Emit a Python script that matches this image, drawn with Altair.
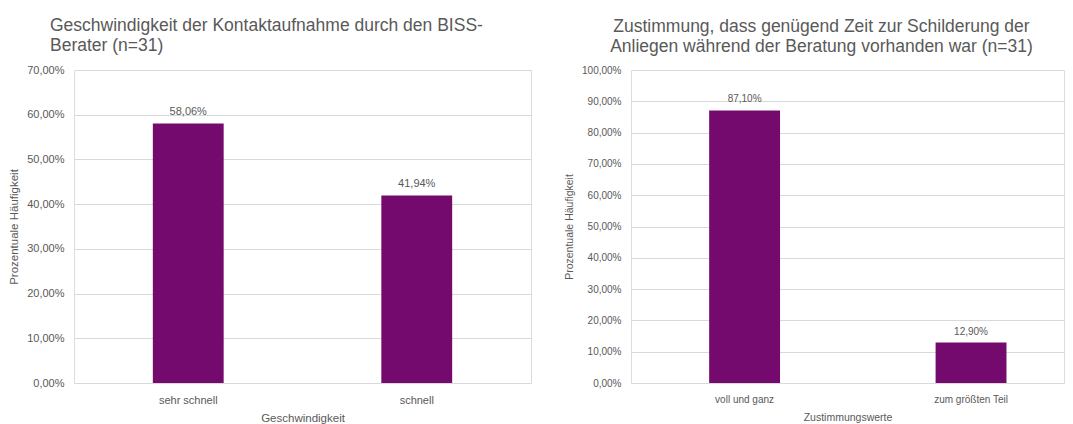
import altair as alt
import pandas as pd

# ---- data ----
left_categories = ["sehr schnell", "schnell"]
left_values = [58.06, 41.94]
left_ticks = [0, 10, 20, 30, 40, 50, 60, 70]

right_categories = ["voll und ganz", "zum größten Teil"]
right_values = [87.10, 12.90]
right_ticks = [0, 10, 20, 30, 40, 50, 60, 70, 80, 90, 100]

left_title = ["Geschwindigkeit der Kontaktaufnahme durch den BISS-", "Berater (n=31)"]
right_title = ["Zustimmung, dass genügend Zeit zur Schilderung der",
               "Anliegen während der Beratung vorhanden war (n=31)"]

PURPLE = "#740A6E"
GREY = "#595959"
GRID = "#D9D9D9"
FONT = "Liberation Sans"
FMT = "replace(format(datum.value, '.2f'), '.', ',') + '%'"


def panel(cats, vals, ticks, ymax, xtitle, title, width, small, ytitle_size,
          pad_inner, pad_outer, align, title_anchor, title_dx, x_title_pad):
    df = pd.DataFrame({"k": cats, "v": vals})
    base = alt.Chart(df).transform_calculate(
        lab="replace(format(datum.v, '.2f'), '.', ',') + '%'"
    )
    x = alt.X(
        "k:N", sort=None, title=xtitle,
        scale=alt.Scale(paddingInner=pad_inner, paddingOuter=pad_outer, align=align),
        axis=alt.Axis(labelAngle=0, domain=False, ticks=False, labelPadding=11,
                      titlePadding=x_title_pad, labelFontSize=small,
                      titleFontSize=ytitle_size,
                      labelColor=GREY, titleColor=GREY, labelFont=FONT, titleFont=FONT,
                      titleFontWeight="normal"),
    )
    y = alt.Y(
        "v:Q", title="Prozentuale Häufigkeit",
        scale=alt.Scale(domain=[0, ymax], nice=False),
        axis=alt.Axis(values=ticks, labelExpr=FMT, domain=False, ticks=False,
                      labelPadding=10, titlePadding=7, gridColor=GRID, gridWidth=1,
                      labelFontSize=small, titleFontSize=ytitle_size,
                      labelColor=GREY, titleColor=GREY, labelFont=FONT, titleFont=FONT,
                      titleFontWeight="normal", labelOverlap=False),
    )
    bars = base.mark_bar(color=PURPLE).encode(x=x, y=y)
    text = base.mark_text(baseline="alphabetic", dy=-8, color=GREY, font=FONT,
                          fontSize=small).encode(x=x, y=y, text="lab:N")
    return alt.layer(bars, text).properties(
        width=width, height=313,
        title=alt.TitleParams(title, anchor=title_anchor, dx=title_dx, fontSize=17.5,
                              font=FONT, fontWeight="normal", color=GREY,
                              lineHeight=19.5, offset=10, frame="group"),
    )


left = panel(left_categories, left_values, left_ticks, 70, "Geschwindigkeit",
             left_title, 457, 11, 11.5, 0.69, 0.345, 0.5, "start", -24, 7)
right = panel(right_categories, right_values, right_ticks, 100, "Zustimmungswerte",
              right_title, 433, 10, 10.5, 0.687, 0.2996, 0.576, "middle", -26, 8.5)

chart = alt.hconcat(left, right, spacing=32).properties(
    padding={"left": 0, "top": 8, "right": 0, "bottom": 0}
).configure_view(stroke=None).configure(background="white")

chart.save("out.html", embed_options={"renderer": "svg", "actions": False})
